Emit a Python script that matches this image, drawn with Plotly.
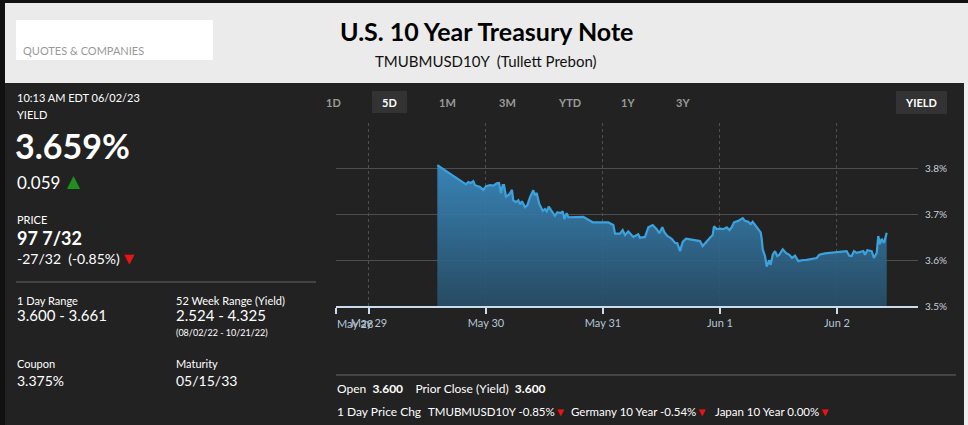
import plotly.graph_objects as go

# ---------------- data ----------------
times = [
    "2023-05-29 14:01", "2023-05-29 19:54", "2023-05-29 20:22", "2023-05-29 20:52",
    "2023-05-29 21:24", "2023-05-29 21:45", "2023-05-29 22:46", "2023-05-29 23:27",
    "2023-05-30 00:00", "2023-05-30 00:49", "2023-05-30 01:30", "2023-05-30 02:12",
    "2023-05-30 02:40", "2023-05-30 03:05", "2023-05-30 03:26", "2023-05-30 03:42",
    "2023-05-30 04:06", "2023-05-30 04:47", "2023-05-30 05:20", "2023-05-30 05:36",
    "2023-05-30 06:09", "2023-05-30 06:38", "2023-05-30 06:59", "2023-05-30 07:23",
    "2023-05-30 08:00", "2023-05-30 08:28", "2023-05-30 09:02", "2023-05-30 09:42",
    "2023-05-30 10:03", "2023-05-30 10:24", "2023-05-30 10:56", "2023-05-30 11:38",
    "2023-05-30 12:06", "2023-05-30 12:27", "2023-05-30 12:52", "2023-05-30 13:29",
    "2023-05-30 14:09", "2023-05-30 14:38", "2023-05-30 15:19", "2023-05-30 15:44",
    "2023-05-30 16:04", "2023-05-30 16:33", "2023-05-30 16:53", "2023-05-30 19:58",
    "2023-05-30 20:59", "2023-05-30 21:53", "2023-05-31 01:05", "2023-05-31 02:07",
    "2023-05-31 02:28", "2023-05-31 03:29", "2023-05-31 04:02", "2023-05-31 04:31",
    "2023-05-31 05:11", "2023-05-31 06:13", "2023-05-31 07:14", "2023-05-31 07:35",
    "2023-05-31 08:37", "2023-05-31 09:18", "2023-05-31 10:12", "2023-05-31 11:01",
    "2023-05-31 11:33", "2023-05-31 12:10", "2023-05-31 12:37", "2023-05-31 13:11",
    "2023-05-31 13:40", "2023-05-31 14:06", "2023-05-31 14:46", "2023-05-31 15:15",
    "2023-05-31 15:48", "2023-05-31 16:21", "2023-05-31 17:02", "2023-05-31 18:31",
    "2023-05-31 19:54", "2023-05-31 20:27", "2023-05-31 21:16", "2023-05-31 21:57",
    "2023-05-31 22:30", "2023-05-31 22:46", "2023-05-31 23:20", "2023-06-01 00:00",
    "2023-06-01 00:41", "2023-06-01 01:23", "2023-06-01 01:55", "2023-06-01 02:24",
    "2023-06-01 02:52", "2023-06-01 03:45", "2023-06-01 04:40", "2023-06-01 05:08",
    "2023-06-01 05:48", "2023-06-01 06:18", "2023-06-01 06:42", "2023-06-01 07:32",
    "2023-06-01 08:04", "2023-06-01 08:21", "2023-06-01 08:33", "2023-06-01 08:46",
    "2023-06-01 09:14", "2023-06-01 09:35", "2023-06-01 10:07", "2023-06-01 10:24",
    "2023-06-01 10:49", "2023-06-01 11:17", "2023-06-01 11:45", "2023-06-01 12:10",
    "2023-06-01 12:52", "2023-06-01 13:32", "2023-06-01 14:13", "2023-06-01 14:46",
    "2023-06-01 15:23", "2023-06-01 16:04", "2023-06-01 16:46", "2023-06-01 17:47",
    "2023-06-01 19:50", "2023-06-01 20:22", "2023-06-01 21:32", "2023-06-01 22:34",
    "2023-06-01 23:56", "2023-06-02 01:18", "2023-06-02 01:59", "2023-06-02 02:31",
    "2023-06-02 03:01", "2023-06-02 03:29", "2023-06-02 04:03", "2023-06-02 04:43",
    "2023-06-02 05:24", "2023-06-02 05:45", "2023-06-02 06:13", "2023-06-02 07:07",
    "2023-06-02 07:35", "2023-06-02 08:09", "2023-06-02 08:28", "2023-06-02 08:49",
    "2023-06-02 09:10", "2023-06-02 09:39", "2023-06-02 10:12",
]
yields = [
    3.808, 3.766, 3.771, 3.769,
    3.773, 3.764, 3.760, 3.754,
    3.762, 3.764, 3.763, 3.768,
    3.769, 3.747, 3.764, 3.764,
    3.739, 3.744, 3.754, 3.731,
    3.727, 3.731, 3.722, 3.729,
    3.716, 3.720, 3.738, 3.753,
    3.742, 3.747, 3.723, 3.708,
    3.712, 3.707, 3.717, 3.708,
    3.697, 3.705, 3.703, 3.707,
    3.690, 3.703, 3.694, 3.695,
    3.688, 3.683, 3.683, 3.677,
    3.658, 3.658, 3.666, 3.655,
    3.663, 3.651, 3.657, 3.649,
    3.651, 3.672, 3.677, 3.668,
    3.659, 3.672, 3.661, 3.653,
    3.650, 3.647, 3.638, 3.637,
    3.620, 3.640, 3.647, 3.644,
    3.642, 3.631, 3.642, 3.649,
    3.655, 3.674, 3.668, 3.669,
    3.668, 3.672, 3.666, 3.672,
    3.683, 3.686, 3.692, 3.686,
    3.684, 3.679, 3.684, 3.672,
    3.664, 3.661, 3.647, 3.624,
    3.609, 3.586, 3.600, 3.590,
    3.612, 3.620, 3.609, 3.612,
    3.624, 3.616, 3.612, 3.605,
    3.610, 3.598, 3.600, 3.601,
    3.605, 3.612, 3.615, 3.616,
    3.618, 3.620, 3.620, 3.610,
    3.609, 3.620, 3.616, 3.618,
    3.620, 3.612, 3.622, 3.620,
    3.605, 3.616, 3.653, 3.635,
    3.647, 3.638, 3.660,
]

x_range = ["2023-05-28 17:14", "2023-06-02 16:37"]
tick_dates = ["2023-05-28 17:14", "2023-05-29", "2023-05-30", "2023-05-31", "2023-06-01", "2023-06-02"]
tick_labels = ["", "May 29", "May 30", "May 31", "Jun 1", "Jun 2"]
first_label = "May 28"
y_ticks = [3.5, 3.6, 3.7, 3.8, 3.9]
y_tick_labels = ["3.5%", "3.6%", "3.7%", "3.8%", ""]

range_buttons = ["1D", "5D", "1M", "3M", "YTD", "1Y", "3Y"]

# ---------------- layout helpers ----------------
W, H = 968, 425
PL, PR, PT, PB = 336, 918, 123, 306
FONT = "Lato, 'Open Sans', sans-serif"
SYM = "'DejaVu Sans', sans-serif"
DOWN = "<span style='color:#ee1111'>▼</span>"


def fx(x):
    return (x - PL) / (PR - PL)


def fy(y):
    return (PB - y) / (PB - PT)


fig = go.Figure()

fig.add_trace(go.Scatter(
    x=times, y=yields, mode="lines",
    line=dict(color="#3ca2de", width=2.2),
    fill="tozeroy",
    fillgradient=dict(type="vertical", start=3.5, stop=3.81,
                      colorscale=[[0, "rgba(40,78,104,0.92)"], [1, "rgba(58,140,196,0.92)"]]),
    hoverinfo="skip", showlegend=False,
))

shapes = []
annotations = []


def rect(x0, y0, x1, y1, color):
    shapes.append(dict(type="rect", xref="paper", yref="paper",
                       x0=fx(x0), x1=fx(x1), y0=fy(y1), y1=fy(y0),
                       fillcolor=color, line=dict(width=0, color=color),
                       layer="below"))


def hline(x0, x1, y, color, width=1):
    shapes.append(dict(type="line", xref="paper", yref="paper",
                       x0=fx(x0), x1=fx(x1), y0=fy(y), y1=fy(y),
                       line=dict(color=color, width=width), layer="below"))


def label(x, y, text, size, color="#ffffff", anchor="left", family=FONT):
    annotations.append(dict(xref="paper", yref="paper", x=fx(x), y=fy(y),
                            xanchor=anchor, yanchor="middle", text=text,
                            showarrow=False, borderpad=0,
                            font=dict(size=size, color=color, family=family)))


# page frame
rect(0, 0, W, H, "#111111")
rect(5, 83, 964, H, "#222222")
rect(964, 83, W, H, "#eeeeee")
rect(5, 3, W, 83, "#ebebeb")
rect(16, 20, 213, 60, "#ffffff")

# header
label(22, 50, "QUOTES & COMPANIES", 11, "#999999")
label(486, 31, "<b>U.S. 10 Year Treasury Note</b>", 25, "#000000", "center")
label(486, 61, "TMUBMUSD10Y  (Tullett Prebon)", 15, "#111111", "center")

# left panel
label(16, 97, "10:13 AM EDT 06/02/23", 11)
label(16, 115, "YIELD", 11)
label(14, 145, "<b>3.659%</b>", 34)
label(16, 182, "0.059", 17)
label(74, 181, "▲", 17, "#1f8f1f", "center", SYM)
label(16, 219, "PRICE", 11)
label(16, 238, "<b>97 7/32</b>", 18)
label(16, 258, "-27/32  (-0.85%)", 14)
label(129, 258, "▼", 13, "#ee1111", "center", SYM)
hline(16, 316, 282, "#666666")
label(16, 300, "1 Day Range", 11)
label(16, 315, "3.600 - 3.661", 15)
label(175, 300, "52 Week Range (Yield)", 11)
label(175, 315, "2.524 - 4.325", 15)
label(175, 332, "(08/02/22 - 10/21/22)", 9)
label(16, 363, "Coupon", 11)
label(16, 380, "3.375%", 14)
label(175, 363, "Maturity", 11)
label(175, 380, "05/15/33", 14)

# range buttons
button_x = [333, 389, 447, 507, 569, 628, 683]
rect(372, 91, 407, 113, "#333333")
rect(896, 91, 947, 114, "#333333")
for bx, name in zip(button_x, range_buttons):
    col = "#ffffff" if name == "5D" else "#9a9a9a"
    label(bx, 102, f"<b>{name}</b>", 11, col, "center")
label(921, 102, "<b>YIELD</b>", 11, "#ffffff", "center")

# first (partial) x label
label(PL, 323, first_label, 11, "#b4c6d8")

# bottom info
hline(336, 956, 375, "#666666")
label(336, 388, "Open  <b>3.600</b>    Prior Close (Yield)  <b>3.600</b>", 12)
label(336, 411, "1 Day Price Chg", 12)
label(427, 411, "TMUBMUSD10Y -0.85%" + DOWN, 11.5)
label(570, 411, "Germany 10 Year -0.54%" + DOWN, 11.5)
label(714, 411, "Japan 10 Year 0.00%" + DOWN, 11.5)

fig.update_layout(
    width=W, height=H, autosize=False,
    margin=dict(l=PL, r=W - PR, t=PT, b=H - PB, pad=0),
    paper_bgcolor="#222222", plot_bgcolor="#222222",
    font=dict(family=FONT, color="#ffffff"),
    shapes=shapes, annotations=annotations,
    showlegend=False,
    xaxis=dict(
        type="date", range=x_range,
        tickvals=tick_dates, ticktext=tick_labels,
        showgrid=True, gridcolor="#4f4f4f", griddash="dot", gridwidth=1,
        showline=True, linecolor="#c8dcee", linewidth=1.5,
        ticks="outside", ticklen=6, tickcolor="#c8dcee", tickwidth=1.5,
        tickfont=dict(size=11, color="#b4c6d8", family=FONT),
        zeroline=False, fixedrange=True,
    ),
    yaxis=dict(
        range=[3.5, 3.9], side="right",
        tickvals=y_ticks, ticktext=y_tick_labels,
        showgrid=True, gridcolor="#4e4e4e", gridwidth=1,
        showline=False, zeroline=False,
        ticks="outside", ticklen=4, tickcolor="rgba(0,0,0,0)",
        tickfont=dict(size=10, color="#c8d0dc", family=FONT),
        fixedrange=True,
    ),
)

fig.write_html(
    "out.html",
    config={"displayModeBar": False},
    post_script=["document.body.style.margin='0';document.body.style.overflow='hidden';"],
)
